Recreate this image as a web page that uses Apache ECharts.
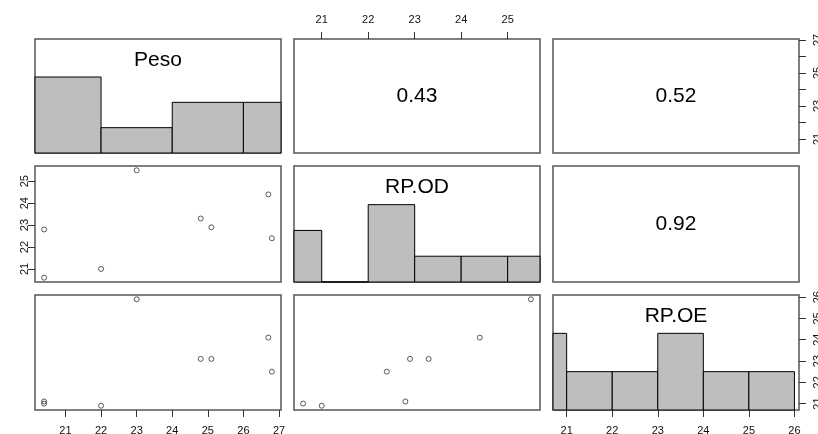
<!DOCTYPE html>
<html>
<head>
<meta charset="utf-8">
<title>pairs</title>
<script src="https://cdn.jsdelivr.net/npm/echarts@6/dist/echarts.min.js"></script>
<style>html,body{margin:0;padding:0;background:#fff;}</style>
</head>
<body>
<div id="main" style="width:818px;height:434px;"></div>
<script type="text/javascript">
// data
var varNames = ['Peso', 'RP.OD', 'RP.OE'];
var peso = [20.4, 20.4, 22.0, 23.0, 24.8, 25.1, 26.7, 26.8];
var rpOD = [20.6, 22.8, 21.0, 25.5, 23.3, 22.9, 24.4, 22.4];
var rpOE = [21.0, 21.1, 20.9, 25.9, 23.1, 23.1, 24.1, 22.5];
var pesoBreaks = [20, 22, 24, 26, 28];
var odBreaks = [20, 21, 22, 23, 24, 25, 26];
var oeBreaks = [20, 21, 22, 23, 24, 25, 26];
var pesoTicks = [21, 22, 23, 24, 25, 26, 27];
var pesoTickLabels = [21, 23, 25, 27];
var odTicks = [21, 22, 23, 24, 25];
var oeTicks = [21, 22, 23, 24, 25, 26];
var corPairs = [[0, 1], [0, 2], [1, 2]];
var corValues = ['0.43', '0.52', '0.92'];

var vars = [peso, rpOD, rpOE];
var breaks = [pesoBreaks, odBreaks, oeBreaks];

// layout
var colLeft = [35, 294, 553], colW = 246;
var rowTop = [39, 166, 295], rowH = [114, 116, 115];
var FONT = 'Liberation Sans, Arial, sans-serif';

function range(v) {
  var lo = Math.min.apply(null, v), hi = Math.max.apply(null, v);
  var pad = 0.04 * (hi - lo);
  return { min: lo - pad, max: hi + pad };
}
var ranges = vars.map(range);

function histData(v, b) {
  var counts = [];
  for (var i = 0; i < b.length - 1; i++) {
    var n = 0;
    v.forEach(function (x) {
      if ((x > b[i] || (i === 0 && x >= b[i])) && x <= b[i + 1]) n++;
    });
    counts.push(n);
  }
  var mx = Math.max.apply(null, counts);
  return counts.map(function (c, i) { return [b[i], b[i + 1], c / mx]; });
}

function renderHist(params, api) {
  var p0 = api.coord([api.value(0), api.value(2)]);
  var p1 = api.coord([api.value(1), 0]);
  var cs = params.coordSys;
  var r = echarts.graphic.clipRectByRect(
    { x: p0[0], y: p0[1], width: p1[0] - p0[0], height: p1[1] - p0[1] },
    { x: cs.x, y: cs.y, width: cs.width, height: cs.height });
  return r && { type: 'rect', shape: r, style: { fill: '#bebebe', stroke: '#000', lineWidth: 1 } };
}

var hidden = { axisLine: { show: false }, splitLine: { show: false }, axisTick: { show: false }, axisLabel: { show: false } };
function shownAxis(ticks, labels, rotate, margin) {
  return {
    axisLine: { show: false },
    splitLine: { show: false },
    axisTick: { show: true, inside: false, length: 7, customValues: ticks, lineStyle: { color: '#333', width: 1 } },
    axisLabel: { show: true, customValues: labels, rotate: rotate, margin: margin, color: '#111', fontSize: 11, fontFamily: FONT }
  };
}

var grids = [], xAxes = [], yAxes = [], series = [], graphics = [];
for (var r = 0; r < 3; r++) {
  for (var c = 0; c < 3; c++) {
    var g = r * 3 + c;
    grids.push({ left: colLeft[c], top: rowTop[r], width: colW, height: rowH[r], show: true,
      outerBoundsMode: 'none', containLabel: false,
      borderColor: '#555', borderWidth: 1.5, backgroundColor: 'transparent' });
    xAxes.push(Object.assign({ gridIndex: g, type: 'value', min: ranges[c].min, max: ranges[c].max }, hidden));
    if (r === c) {
      yAxes.push(Object.assign({ gridIndex: g, type: 'value', min: 0, max: 1.5 }, hidden));
      series.push({ type: 'custom', xAxisIndex: g, yAxisIndex: g, renderItem: renderHist,
        data: histData(vars[c], breaks[c]), silent: true });
      graphics.push({ type: 'text', x: colLeft[c] + colW / 2, y: rowTop[r] + 21,
        style: { text: varNames[c], font: '21px ' + FONT, fill: '#000', textAlign: 'center', textVerticalAlign: 'middle' } });
    } else {
      yAxes.push(Object.assign({ gridIndex: g, type: 'value', min: ranges[r].min, max: ranges[r].max }, hidden));
      if (r > c) {
        series.push({ type: 'scatter', xAxisIndex: g, yAxisIndex: g, symbol: 'circle', symbolSize: 5,
          itemStyle: { color: 'rgba(0,0,0,0)', borderColor: '#333', borderWidth: 1 },
          data: vars[c].map(function (x, i) { return [x, vars[r][i]]; }), silent: true });
      }
    }
  }
}
corPairs.forEach(function (p, i) {
  var rr = p[0], cc = p[1];
  graphics.push({ type: 'text', x: colLeft[cc] + colW / 2, y: rowTop[rr] + rowH[rr] / 2,
    style: { text: corValues[i], font: '21px ' + FONT, fill: '#000', textAlign: 'center', textVerticalAlign: 'middle' } });
});

// outer axes
Object.assign(xAxes[6], shownAxis(pesoTicks, pesoTicks, 0, 15), { position: 'bottom' });
Object.assign(xAxes[8], shownAxis(oeTicks, oeTicks, 0, 15), { position: 'bottom' });
Object.assign(xAxes[1], shownAxis(odTicks, odTicks, 0, 14), { position: 'top' });
Object.assign(yAxes[3], shownAxis(odTicks, odTicks, 90, 5), { position: 'left' });
Object.assign(yAxes[2], shownAxis(pesoTicks, pesoTickLabels, 90, 13), { position: 'right' });
yAxes.push(Object.assign({ gridIndex: 8, type: 'value', min: ranges[2].min, max: ranges[2].max, position: 'right' },
  shownAxis(oeTicks, oeTicks, 90, 13)));

var myChart = echarts.init(document.getElementById('main'));
myChart.setOption({
  backgroundColor: '#fff',
  animation: false,
  grid: grids,
  xAxis: xAxes,
  yAxis: yAxes,
  series: series,
  graphic: graphics
});
</script>
</body>
</html>
